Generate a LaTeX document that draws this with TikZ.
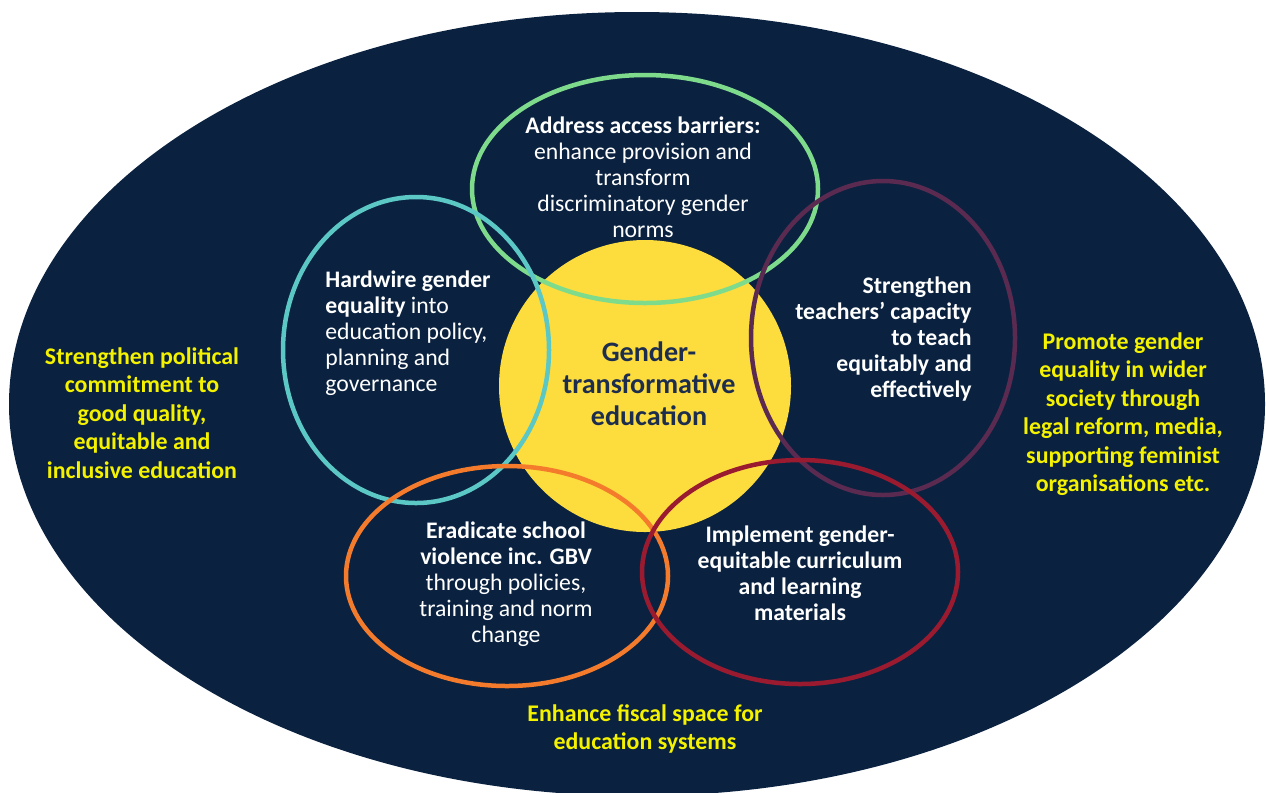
\documentclass[tikz,border=0pt]{standalone}
\usepackage{fontspec}
\setmainfont{Carlito}

\definecolor{bgnavy}{HTML}{0A2240}
\definecolor{coresun}{HTML}{FDDC3E}
\definecolor{corenavy}{HTML}{1C2D4E}
\definecolor{hiyellow}{HTML}{F5F200}
\definecolor{ringmint}{HTML}{7FDB8C}
\definecolor{ringteal}{HTML}{5CC8C6}
\definecolor{ringplum}{HTML}{5B2A50}
\definecolor{ringorange}{HTML}{F47B2C}
\definecolor{ringred}{HTML}{9A1B30}

\tikzset{
	ring/.style={line width=0.9mm},
	inner/.style={text=white, font={\fontsize{13.5}{14.8}\selectfont}, align=center, inner sep=0pt},
	outer/.style={text=hiyellow, font={\fontsize{13.6}{16.2}\selectfont\bfseries}, align=center, inner sep=0pt},
}

\begin{document}
\begin{tikzpicture}[x=0.02cm, y=0.02cm]
			%%%%% START %%%%%
			\useasboundingbox (0, 0) rectangle (1266, -792);
			\clip (0, 0) rectangle (1266, -792);
			\fill[white] (0, 0) rectangle (1266, -792);
			
			\fill[bgnavy] (637, -404) ellipse [x radius=628, y radius=392];
			\fill[coresun] (645, -386) circle (146);
			
			\draw[ring, color=ringmint] (645, -189) ellipse [x radius=173, y radius=114];
			\draw[ring, color=ringteal] (416, -350) ellipse [x radius=133, y radius=153];
			\draw[ring, color=ringplum] (883, -338) ellipse [x radius=132, y radius=157];
			\draw[ring, color=ringorange] (507, -576) ellipse [x radius=161, y radius=110];
			\draw[ring, color=ringred] (800, -572) ellipse [x radius=158, y radius=112];
			
			\node[text=corenavy, font={\fontsize{16}{18.2}\selectfont\bfseries}, align=center] (core) at (649, -384) {Gender-\\transformative\\education};
			
			\node[inner] (access) at (643, -177) {{\bfseries Address access barriers:}\\enhance provision and\\transform\\discriminatory gender\\norms};
			\node[inner, anchor=west, align=left] (policy) at (325, -333) {{\bfseries Hardwire gender}\\{\bfseries equality} into\\education policy,\\planning and\\governance};
			\node[inner, anchor=east, align=right, font={\fontsize{13.5}{14.8}\selectfont\bfseries}] (teachers) at (972, -339) {Strengthen\\teachers’ capacity\\to teach\\equitably and\\effectively};
			\node[inner] (violence) at (506, -584) {{\bfseries Eradicate school}\\{\bfseries violence inc. GBV}\\through policies,\\training and norm\\change};
			\node[inner, font={\fontsize{13.5}{14.8}\selectfont\bfseries}] (curriculum) at (800, -573) {Implement gender-\\equitable curriculum\\and learning\\materials};
			
			\node[outer] (politics) at (142, -413) {Strengthen political\\commitment to\\good quality,\\equitable and\\inclusive education};
			\node[outer] (society) at (1123, -414) {Promote gender\\equality in wider\\society through\\legal reform, media,\\supporting feminist\\organisations etc.};
			\node[outer] (fiscal) at (645, -729) {Enhance fiscal space for\\education systems};
			%%%%% END %%%%%
\end{tikzpicture}
\end{document}
